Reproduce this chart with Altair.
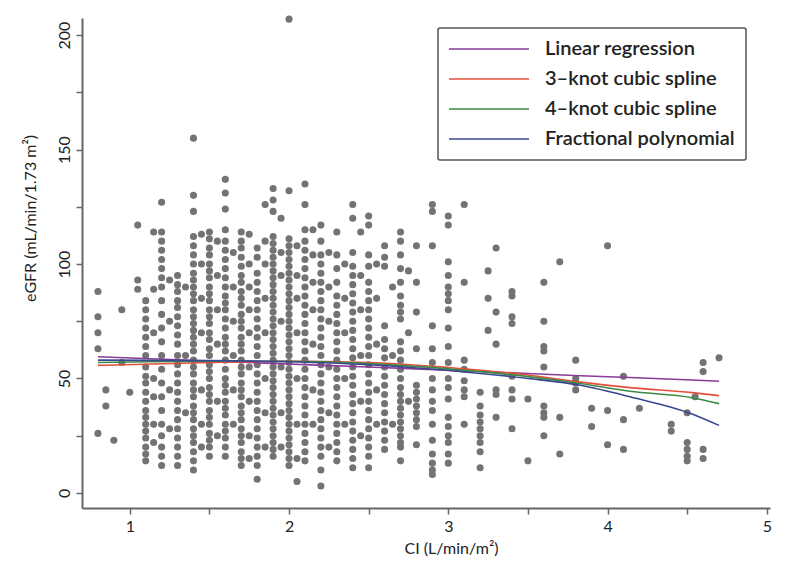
import altair as alt
import pandas as pd

# ---- scatter data: CI column values and the eGFR values read in each column ----
point_ci = [0.8, 0.85, 0.9, 0.95, 1.0, 1.05, 1.1, 1.15, 1.2, 1.25, 1.3, 1.35, 1.4, 1.45, 1.5,
            1.55, 1.6, 1.65, 1.7, 1.75, 1.8, 1.85, 1.9, 1.95, 2.0, 2.05, 2.1, 2.15, 2.2, 2.25,
            2.3, 2.35, 2.4, 2.45, 2.5, 2.55, 2.6, 2.65, 2.7, 2.75, 2.8, 2.9, 3.0, 3.1, 3.2,
            3.25, 3.3, 3.4, 3.5, 3.6, 3.7, 3.8, 3.9, 4.0, 4.1, 4.2, 4.4, 4.5, 4.55, 4.6, 4.7]

point_egfr = [
    [88, 77, 70, 63, 26],
    [45, 38],
    [23],
    [80, 57],
    [44],
    [117, 93, 89],
    [84, 80, 76, 72, 68, 64, 60, 55, 51, 48, 44, 40, 36, 33, 30, 27, 24, 20, 17, 14],
    [114, 89, 70, 50, 42, 30, 22],
    [127, 114, 110, 106, 102, 98, 94, 90, 84, 78, 72, 66, 60, 54, 48, 42, 36, 30, 25, 20, 16, 12],
    [93, 75, 45, 28],
    [95, 91, 88, 84, 81, 77, 73, 69, 65, 60, 56, 52, 48, 44, 40, 36, 32, 28, 24, 20, 16, 12],
    [90, 60, 35],
    [155, 130, 123, 112, 108, 104, 100, 96, 93, 90, 87, 84, 80, 77, 74, 71, 68, 65, 62, 58, 55, 52,
     48, 45, 42, 38, 35, 32, 28, 25, 22, 18, 14, 10],
    [113, 100, 85, 70, 45, 30, 20],
    [114, 111, 107, 104, 100, 97, 94, 90, 87, 84, 80, 77, 74, 70, 67, 63, 60, 56, 53, 50, 46, 43,
     40, 36, 33, 30, 26, 23, 20, 16],
    [110, 95, 80, 65, 40, 25],
    [137, 131, 124, 115, 110, 106, 102, 98, 94, 90, 86, 83, 80, 76, 72, 68, 65, 62, 58, 54, 50, 47,
     44, 40, 37, 34, 30, 27, 24, 20, 16],
    [105, 90, 75, 60, 45, 30],
    [114, 110, 107, 103, 99, 95, 92, 88, 85, 82, 78, 75, 72, 68, 65, 62, 58, 55, 52, 48, 45, 42,
     38, 35, 32, 28, 25, 22, 18, 15, 12],
    [113, 100, 90, 80, 70, 55, 40, 25, 15],
    [107, 103, 96, 92, 88, 84, 80, 76, 72, 68, 64, 60, 56, 52, 48, 44, 40, 36, 32, 28, 24, 20, 16,
     12, 6],
    [126, 110, 100, 85, 70, 50, 35, 20],
    [133, 128, 123, 112, 109, 106, 103, 100, 97, 94, 91, 88, 85, 82, 79, 76, 73, 70, 67, 64, 61,
     58, 55, 52, 49, 46, 43, 40, 37, 34, 31, 28, 25, 22, 19, 16],
    [120, 105, 95, 75, 55, 35, 20],
    [207, 132, 111, 108, 105, 102, 99, 96, 93, 90, 87, 84, 81, 78, 75, 72, 69, 66, 63, 60, 57, 54,
     51, 48, 45, 42, 39, 36, 33, 30, 27, 24, 21, 18, 15, 12],
    [108, 95, 85, 70, 50, 30, 15, 5],
    [135, 126, 115, 110, 106, 102, 98, 94, 90, 86, 82, 78, 74, 70, 66, 62, 58, 54, 50, 46, 42, 38,
     34, 30, 26, 22, 18, 14],
    [115, 104, 92, 80, 65, 45, 30],
    [117, 110, 104, 100, 96, 92, 88, 84, 80, 76, 72, 68, 64, 60, 56, 52, 48, 44, 40, 36, 32, 28,
     24, 20, 16, 10, 3],
    [105, 90, 75, 55, 35, 20],
    [114, 104, 98, 92, 86, 82, 78, 74, 70, 66, 62, 58, 54, 50, 46, 42, 38, 34, 30, 26, 22, 18, 14],
    [100, 85, 70, 50, 30],
    [126, 120, 105, 99, 95, 91, 87, 83, 79, 75, 71, 67, 63, 59, 55, 51, 47, 43, 39, 35, 31, 27,
     23, 19, 15, 11],
    [114, 95, 80, 60, 40, 25],
    [121, 117, 104, 99, 92, 88, 84, 80, 76, 72, 68, 64, 60, 56, 52, 48, 44, 40, 36, 32, 28, 24,
     20, 16, 11],
    [100, 85, 65, 45, 30],
    [108, 103, 99, 73, 67, 63, 59, 55, 51, 47, 43, 39, 35, 31, 27, 23, 19],
    [90, 60, 30],
    [114, 110, 104, 98, 92, 86, 82, 79, 76, 66, 62, 58, 54, 50, 46, 43, 40, 37, 34, 31, 28, 25,
     22, 20, 14],
    [97, 70, 40],
    [108, 92, 79, 63, 47, 44, 41, 38, 35, 32, 29, 21],
    [126, 123, 108, 73, 63, 57, 50, 45, 40, 36, 30, 23, 17, 13, 10, 8],
    [121, 117, 101, 95, 90, 87, 84, 80, 72, 64, 57, 50, 46, 41, 33, 29, 25, 22, 17, 13],
    [126, 92, 58, 54, 49, 45, 42, 30],
    [44, 38, 34, 31, 28, 25, 22, 18, 11],
    [97, 85, 71],
    [107, 79, 65, 45, 43, 33],
    [88, 86, 77, 74, 51, 45, 41, 28],
    [41, 14],
    [92, 75, 64, 62, 55, 38, 35, 33, 25],
    [101, 33, 17],
    [58, 50, 48, 45],
    [37, 29],
    [108, 36, 21],
    [51, 32, 19],
    [37],
    [30, 27],
    [35, 22, 19, 16, 14],
    [42],
    [57, 53, 19, 15],
    [59],
]

# ---- fitted curves ----
curve_ci = [0.8, 1.5, 2.0, 2.5, 3.0, 3.5, 3.83, 4.14, 4.53, 4.7]
linear_fit = [59.5, 57.6, 56.3, 55.0, 53.6, 52.2, 51.2, 50.4, 49.3, 48.8]
spline3_fit = [55.7, 57.0, 57.5, 57.0, 54.8, 51.5, 48.4, 46.0, 43.8, 42.5]
spline4_fit = [57.0, 57.5, 57.5, 56.5, 54.2, 50.8, 47.8, 44.4, 41.6, 39.0]
fracpoly_fit = [58.0, 57.8, 57.3, 56.0, 53.5, 50.0, 47.0, 42.0, 34.5, 29.5]

method_names = ["Linear regression", "3\u2013knot cubic spline",
                "4\u2013knot cubic spline", "Fractional polynomial"]
method_colors = ["#8a3c98", "#e4503a", "#3d8a46", "#3a4690"]

x_ticks = [1, 1.5, 2, 2.5, 3, 3.5, 4, 4.5, 5]
y_ticks = [0, 25, 50, 75, 100, 125, 150, 175, 200]

# ---- build tables ----
pt_rows = []
for cx, ys in zip(point_ci, point_egfr):
    for yv in ys:
        pt_rows.append({"ci": cx, "egfr": yv})
points_df = pd.DataFrame(pt_rows)

curve_rows = []
for name, vals in zip(method_names, [linear_fit, spline3_fit, spline4_fit, fracpoly_fit]):
    for cx, yv in zip(curve_ci, vals):
        curve_rows.append({"ci": cx, "egfr": yv, "method": name})
curves_df = pd.DataFrame(curve_rows)

FONT = "Lato"
x_scale = alt.Scale(domain=[0.7, 5.02], nice=False, zero=False)
y_scale = alt.Scale(domain=[-6.6, 207.5], nice=False, zero=False)

x_axis = alt.Axis(
    values=x_ticks, labelExpr="datum.value % 1 == 0 ? format(datum.value, 'd') : ''",
    title="CI (L/min/m\u00b2)", grid=False, tickSize=6, tickWidth=1.5, tickColor="#666666",
    domainColor="#666666", domainWidth=2, labelFont=FONT, labelFontSize=16, labelColor="#222222",
    labelPadding=4, titleFont=FONT, titleFontSize=16, titleFontWeight="normal",
    titleColor="#222222", titleX=369, titleY=32, titleBaseline="top",
)
y_axis = alt.Axis(
    values=y_ticks, labelExpr="datum.value % 50 == 0 ? format(datum.value, 'd') : ''",
    title="eGFR (mL/min/1.73 m\u00b2)", grid=False, tickSize=6, tickWidth=1.5, tickColor="#666666",
    domainColor="#666666", domainWidth=2, labelFont=FONT, labelFontSize=16, labelColor="#222222",
    labelAngle=-90, labelPadding=4, titleFont=FONT, titleFontSize=16, titleFontWeight="normal",
    titleColor="#222222", titleX=-44, titleY=200,
)

points = alt.Chart(points_df).mark_circle(size=50, color="#747272", opacity=1).encode(
    x=alt.X("ci:Q", scale=x_scale, axis=x_axis),
    y=alt.Y("egfr:Q", scale=y_scale, axis=y_axis),
)

lines = alt.Chart(curves_df).mark_line(strokeWidth=1.6, interpolate="monotone").encode(
    x=alt.X("ci:Q", scale=x_scale),
    y=alt.Y("egfr:Q", scale=y_scale),
    color=alt.Color(
        "method:N",
        scale=alt.Scale(domain=method_names, range=method_colors),
        sort=method_names,
        title=None,
        legend=alt.Legend(
            orient="none", legendX=356, legendY=10,
            symbolType="M-2,0H14", symbolSize=100, symbolStrokeWidth=1.6,
            labelOffset=76, labelFont=FONT, labelFontSize=20, labelFontWeight=600,
            labelColor="#222222", labelLimit=400, padding=11, rowPadding=10,
            strokeColor="#555555", cornerRadius=2,
        ),
    ),
)

chart = alt.layer(points, lines).properties(
    width=688, height=490,
    autosize=alt.AutoSizeParams(type="none"),
    padding={"left": 74, "top": 10, "right": 20, "bottom": 55},
    background="#ffffff",
).configure_view(stroke=None).configure_legend(strokeWidth=1.5)

chart.save("out.html", embed_options={"renderer": "svg", "actions": False})
